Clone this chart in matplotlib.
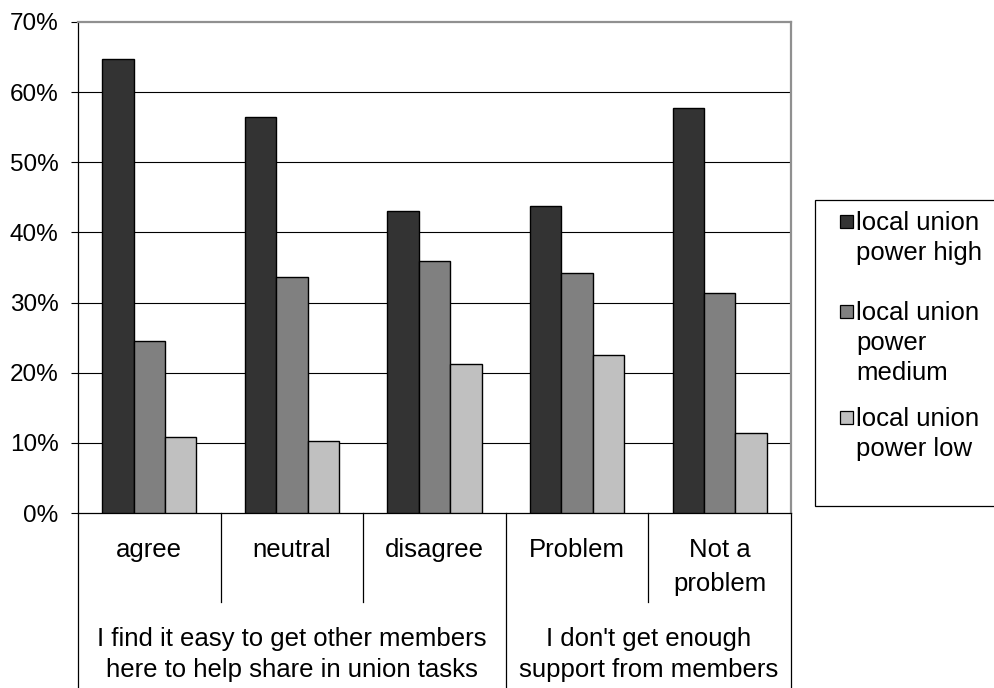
import matplotlib.pyplot as plt
from matplotlib import transforms
from matplotlib.patches import Rectangle

plt.rcParams['font.family'] = ['Liberation Sans', 'DejaVu Sans']

categories = ['agree', 'neutral', 'disagree', 'Problem', 'Not a\nproblem']
groups = ['I find it easy to get other members\nhere to help share in union tasks',
          "I don't get enough\nsupport from members"]
group_centers = [1, 3.5]
series = ['local union\npower high', 'local union\npower\nmedium', 'local union\npower low']
power_high = [64.7, 56.5, 43.1, 43.7, 57.7]
power_medium = [24.5, 33.6, 35.9, 34.2, 31.3]
power_low = [10.8, 10.2, 21.3, 22.5, 11.4]
colors = ['#333333', '#808080', '#c0c0c0']
yticks = [0, 10, 20, 30, 40, 50, 60, 70]

W, H = 995, 688
fig = plt.figure(figsize=(W / 100, H / 100), dpi=100)
ax = fig.add_axes([78 / W, 1 - 513 / H, (791 - 78) / W, (513 - 22) / H])


def fy(y):
    # pixel row from the top -> figure fraction
    return 1 - y / H


width = 0.22
x = list(range(len(categories)))
for k, (vals, col) in enumerate(zip([power_high, power_medium, power_low], colors)):
    ax.bar([i + (k - 1) * width for i in x], vals, width, color=col,
           edgecolor='black', linewidth=1.0, zorder=3)

ax.set_xlim(-0.5, len(categories) - 0.5)
ax.set_ylim(0, 70)
ax.set_yticks(yticks)
ax.set_yticklabels(['%d%%' % t for t in yticks], fontsize=17.5)
ax.tick_params(axis='y', direction='out', length=5, width=0.8, pad=9, colors='black')
ax.set_xticks([])
for t in yticks[1:-1]:
    ax.axhline(t, color='black', linewidth=0.8, zorder=1)

ax.spines['left'].set_color('black')
ax.spines['left'].set_linewidth(0.9)
ax.spines['bottom'].set_color('black')
ax.spines['bottom'].set_linewidth(0.9)
for s in ['top', 'right']:
    ax.spines[s].set_color('#909090')
    ax.spines[s].set_linewidth(1.6)

# category table below the axis
xt = ax.get_xaxis_transform()
low1 = (513 - 602) / (513 - 22)
low2 = (513 - 690) / (513 - 22)
for xs in [0.5, 1.5, 3.5]:
    ax.plot([xs, xs], [0, low1], color='black', linewidth=0.9, transform=xt, clip_on=False)
for xs in [-0.5, 2.5, 4.5]:
    ax.plot([xs, xs], [0, low2], color='black', linewidth=0.9, transform=xt, clip_on=False)

tf = transforms.blended_transform_factory(ax.transData, fig.transFigure)
for i, lab in enumerate(categories):
    for k, line in enumerate(lab.split('\n')):
        ax.text(i, fy(557 + 34 * k), line, transform=tf, ha='center',
                va='baseline', fontsize=18.5)
for xc, lab in zip(group_centers, groups):
    for k, line in enumerate(lab.split('\n')):
        ax.text(xc, fy(646 + 31 * k), line, transform=tf, ha='center',
                va='baseline', fontsize=18.5)

# legend box
fig.patches.append(Rectangle((815.5 / W, fy(506)), (1000 - 815.5) / W, (506 - 200) / H,
                             transform=fig.transFigure, facecolor='white',
                             edgecolor='black', linewidth=0.9))
first_base = [230, 320, 426]
for lab, col, b in zip(series, colors, first_base):
    fig.patches.append(Rectangle((840 / W, fy(b - 2)), 13 / W, 13 / H,
                                 transform=fig.transFigure, facecolor=col,
                                 edgecolor='black', linewidth=0.9))
    for k, line in enumerate(lab.split('\n')):
        fig.text(856 / W, fy(b + 30 * k), line, ha='left', va='baseline', fontsize=18.5)

fig.savefig('out.png', dpi=100)
